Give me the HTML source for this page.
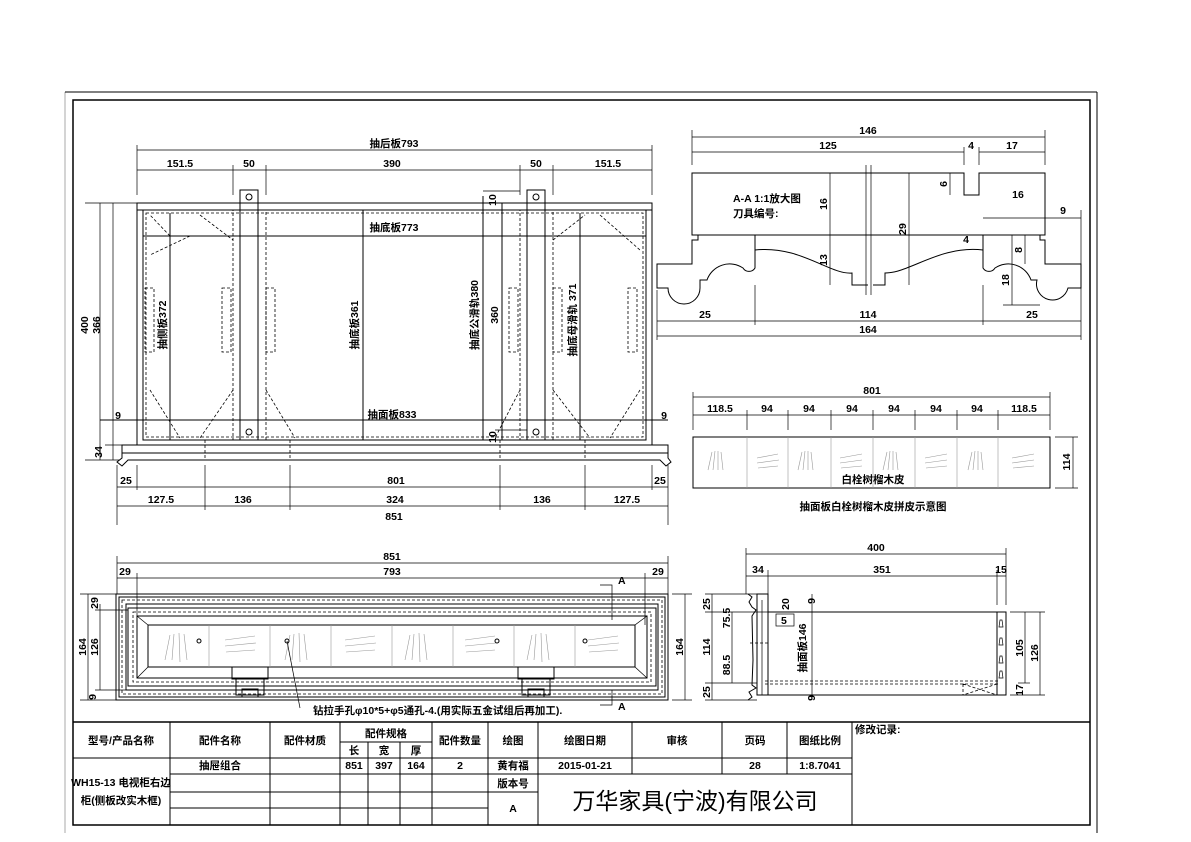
<!DOCTYPE html>
<html><head><meta charset="utf-8"><style>
html,body{margin:0;padding:0;background:#fff}
svg{display:block}
text{font-family:"Liberation Sans","Noto Sans CJK SC",sans-serif;font-size:10.5px;font-weight:bold;fill:#000}
.t{text-anchor:middle}
.s{stroke:#000;stroke-width:1;fill:none}
.d{stroke:#000;stroke-width:0.7;fill:none}
.g{stroke:#999;stroke-width:0.6;fill:none}
.da{stroke:#000;stroke-width:0.8;fill:none;stroke-dasharray:3 2}
.th{stroke:#000;stroke-width:1.5;fill:none}
</style></head><body>
<svg width="1191" height="842" viewBox="0 0 1191 842" xmlns="http://www.w3.org/2000/svg">
<!-- frames -->
<line x1="65" y1="92" x2="65" y2="833" stroke="#aaa" stroke-width="1"/>
<line x1="65" y1="92" x2="1097" y2="92" class="s"/>
<line x1="1097" y1="92" x2="1097" y2="833" class="s"/>
<rect x="73" y="100" width="1017" height="725" class="th"/>

<!-- ===== TOP LEFT VIEW ===== -->
<g>
<!-- dims top -->
<line x1="137" y1="150" x2="652" y2="150" class="d"/>
<text x="394" y="147" class="t">抽后板793</text>
<line x1="137" y1="170" x2="652" y2="170" class="d"/>
<text x="180" y="167" class="t">151.5</text><text x="249" y="167" class="t">50</text>
<text x="392" y="167" class="t">390</text><text x="536" y="167" class="t">50</text>
<text x="608" y="167" class="t">151.5</text>
<g class="d">
<line x1="137" y1="145" x2="137" y2="195"/><line x1="652" y1="145" x2="652" y2="195"/>
<line x1="233" y1="165" x2="233" y2="195"/><line x1="266" y1="165" x2="266" y2="195"/>
<line x1="520" y1="165" x2="520" y2="195"/><line x1="553" y1="165" x2="553" y2="195"/>
</g>
<!-- box -->
<rect x="137" y="203" width="515" height="242" class="s"/>
<line x1="137" y1="210" x2="652" y2="210" class="s"/>
<rect x="143" y="210" width="503" height="230" class="s"/>
<rect x="146" y="213" width="497" height="224" class="da"/>
<line x1="143" y1="236" x2="646" y2="236" class="s"/>
<text x="394" y="231" class="t">抽底板773</text>
<line x1="100" y1="420" x2="668" y2="420" class="s"/>
<text x="392" y="418" class="t">抽面板833</text>
<line x1="363" y1="210" x2="363" y2="440" class="s"/>
<line x1="170" y1="213" x2="170" y2="440" class="s"/>
<line x1="483" y1="196" x2="483" y2="440" class="s"/>
<line x1="502" y1="203" x2="502" y2="440" class="s"/>
<line x1="580" y1="213" x2="580" y2="440" class="s"/>
<!-- rails -->
<rect x="233" y="210" width="33" height="230" class="da"/>
<rect x="240" y="190" width="18" height="250" class="s"/>
<circle cx="249" cy="197" r="3" class="s"/><circle cx="249" cy="432" r="3" class="s"/>
<rect x="520" y="210" width="33" height="230" class="da"/>
<rect x="527" y="190" width="18" height="250" class="s"/>
<circle cx="536" cy="197" r="3" class="s"/><circle cx="536" cy="432" r="3" class="s"/>
<line x1="483" y1="191" x2="520" y2="191" class="d"/>
<line x1="495" y1="430" x2="527" y2="430" class="d"/>
<!-- diagonals -->
<g class="da" stroke-width="0.5">
<line x1="170" y1="236" x2="150" y2="215"/><line x1="190" y1="236" x2="150" y2="255"/>
<line x1="200" y1="215" x2="233" y2="240"/><line x1="233" y1="390" x2="200" y2="438"/>
<line x1="150" y1="390" x2="180" y2="438"/><line x1="266" y1="390" x2="295" y2="438"/>
<line x1="520" y1="390" x2="495" y2="438"/><line x1="553" y1="390" x2="590" y2="438"/>
<line x1="640" y1="390" x2="610" y2="438"/><line x1="600" y1="215" x2="640" y2="250"/>
<line x1="553" y1="240" x2="585" y2="215"/>
</g>
<!-- slots -->
<g class="da">
<rect x="145" y="288" width="9" height="64"/><rect x="222" y="288" width="9" height="64"/>
<rect x="266" y="288" width="9" height="64"/><rect x="509" y="288" width="9" height="64"/>
<rect x="553" y="288" width="9" height="64"/><rect x="628" y="288" width="9" height="64"/>
</g>
<text transform="translate(166,325) rotate(-90)" class="t">抽侧板372</text>
<text transform="translate(358,325) rotate(-90)" class="t">抽底板361</text>
<text transform="translate(478,315) rotate(-90)" class="t">抽底公滑轨380</text>
<text transform="translate(498,315) rotate(-90)" class="t">360</text>
<text transform="translate(576,320) rotate(-90)" class="t">抽底母滑轨 371</text>
<text transform="translate(496,200) rotate(-90)" class="t" font-size="9">10</text>
<text transform="translate(496,437) rotate(-90)" class="t" font-size="9">10</text>
<!-- front panel -->
<rect x="122" y="445" width="546" height="8" class="s"/>
<path d="M122 453 L122 458 L117 462 L122 466 L128 460 L660 460 L666 466 L671 462 L668 458 L668 453" class="s"/>
<g class="da"><line x1="205" y1="440" x2="205" y2="460"/><line x1="290" y1="440" x2="290" y2="460"/><line x1="500" y1="440" x2="500" y2="460"/><line x1="585" y1="440" x2="585" y2="460"/></g>
<!-- left dims -->
<line x1="100" y1="203" x2="100" y2="460" class="d"/>
<line x1="113" y1="203" x2="113" y2="445" class="d"/>
<line x1="113" y1="445" x2="113" y2="460" class="d"/>
<line x1="85" y1="203" x2="137" y2="203" class="d"/>
<line x1="105" y1="445" x2="122" y2="445" class="d"/>
<line x1="85" y1="460" x2="120" y2="460" class="d"/>
<text transform="translate(88,325) rotate(-90)" class="t">400</text>
<text transform="translate(100,325) rotate(-90)" class="t">366</text>
<text transform="translate(102,452) rotate(-90)" class="t">34</text>
<text x="118" y="419" class="t" font-size="9">9</text><text x="664" y="419" class="t" font-size="9">9</text>
<!-- bottom dims -->
<g class="d">
<line x1="117" y1="465" x2="117" y2="525"/><line x1="668" y1="465" x2="668" y2="525"/>
<line x1="137" y1="465" x2="137" y2="490"/><line x1="652" y1="465" x2="652" y2="490"/>
<line x1="205" y1="465" x2="205" y2="510"/><line x1="290" y1="465" x2="290" y2="510"/>
<line x1="500" y1="465" x2="500" y2="510"/><line x1="585" y1="465" x2="585" y2="510"/>
<line x1="117" y1="487" x2="668" y2="487"/><line x1="117" y1="506" x2="668" y2="506"/>
</g>
<text x="126" y="484" class="t">25</text><text x="660" y="484" class="t">25</text>
<text x="396" y="484" class="t">801</text>
<text x="161" y="503" class="t">127.5</text><text x="243" y="503" class="t">136</text>
<text x="395" y="503" class="t">324</text><text x="542" y="503" class="t">136</text>
<text x="627" y="503" class="t">127.5</text>
<text x="394" y="520" class="t">851</text>
</g>

<!-- ===== A-A SECTION ===== -->
<g>
<line x1="692" y1="137" x2="1045" y2="137" class="d"/>
<line x1="692" y1="152" x2="964" y2="152" class="d"/>
<line x1="979" y1="152" x2="1045" y2="152" class="d"/>
<g class="d"><line x1="692" y1="130" x2="692" y2="165"/><line x1="1045" y1="130" x2="1045" y2="165"/>
<line x1="964" y1="147" x2="964" y2="165"/><line x1="979" y1="147" x2="979" y2="165"/></g>
<text x="868" y="134" class="t">146</text><text x="828" y="149" class="t">125</text>
<text x="971" y="149" class="t">4</text><text x="1012" y="149" class="t">17</text>
<path d="M692 173 L964 173 L964 195 L979 195 L979 173 L1045 173 L1045 235 L692 235 Z" class="s"/>
<path d="M698 235 L698 240 L692 240 L692 264 L657 264 L657 288 L668 288 A16 16 0 0 0 700 288 L700 280 L707 280 A24 24 0 0 1 743 268 A7 7 0 0 0 755 268 L755 235" class="s"/>
<path d="M755 250 C800 245 830 275 852 273 L852 285 L868 285" class="s"/>
<path d="M873 285 L885 285 L885 273 C910 273 940 245 983 250" class="s"/>
<path d="M983 235 L983 268 A7 7 0 0 0 995 268 A24 24 0 0 1 1031 280 L1037 280 A16 16 0 0 0 1068 288 L1081 288 L1081 264 L1045 264 L1045 240 L1040 240 L1040 235" class="s"/>
<path d="M866 165 L866 295 M871 165 L871 295" class="d"/>
<text x="733" y="202" font-size="10">A-A 1:1放大图</text>
<text x="733" y="217" font-size="10">刀具编号:</text>
<g class="d">
<line x1="830" y1="173" x2="830" y2="285"/><line x1="909" y1="173" x2="909" y2="285"/>
<line x1="950" y1="195" x2="950" y2="173"/>
<line x1="983" y1="218" x2="1081" y2="218"/><line x1="1081" y1="210" x2="1081" y2="290"/>
<line x1="1012" y1="235" x2="1012" y2="305"/><line x1="1025" y1="235" x2="1025" y2="264"/>
<line x1="657" y1="290" x2="657" y2="340"/><line x1="755" y1="285" x2="755" y2="325"/>
<line x1="983" y1="285" x2="983" y2="325"/><line x1="1081" y1="290" x2="1081" y2="340"/>
<line x1="657" y1="321" x2="1081" y2="321"/><line x1="657" y1="336" x2="1081" y2="336"/>
<line x1="1003" y1="305" x2="1040" y2="305"/>
</g>
<text transform="translate(827,204) rotate(-90)" class="t">16</text>
<text transform="translate(827,260) rotate(-90)" class="t">13</text>
<text transform="translate(906,229) rotate(-90)" class="t">29</text>
<text transform="translate(947,184) rotate(-90)" class="t">6</text>
<text transform="translate(1022,250) rotate(-90)" class="t">8</text>
<text transform="translate(1009,280) rotate(-90)" class="t">18</text>
<text x="966" y="243" class="t">4</text>
<text x="1018" y="198" class="t">16</text><text x="1063" y="214" class="t">9</text>
<text x="705" y="318" class="t">25</text><text x="868" y="318" class="t">114</text>
<text x="1032" y="318" class="t">25</text><text x="868" y="333" class="t">164</text>
</g>

<!-- ===== VENEER DIAGRAM ===== -->
<g>
<line x1="693" y1="397" x2="1050" y2="397" class="d"/>
<line x1="693" y1="415" x2="1050" y2="415" class="d"/>
<text x="872" y="394" class="t">801</text>
<g class="d">
<line x1="693" y1="392" x2="693" y2="430"/><line x1="747" y1="410" x2="747" y2="430"/>
<line x1="788" y1="410" x2="788" y2="430"/><line x1="831" y1="410" x2="831" y2="430"/>
<line x1="873" y1="410" x2="873" y2="430"/><line x1="915" y1="410" x2="915" y2="430"/>
<line x1="957" y1="410" x2="957" y2="430"/><line x1="998" y1="410" x2="998" y2="430"/>
<line x1="1050" y1="392" x2="1050" y2="430"/>
</g>
<text x="720" y="412" class="t">118.5</text><text x="767" y="412" class="t">94</text>
<text x="809" y="412" class="t">94</text><text x="852" y="412" class="t">94</text>
<text x="894" y="412" class="t">94</text><text x="936" y="412" class="t">94</text>
<text x="977" y="412" class="t">94</text><text x="1024" y="412" class="t">118.5</text>
<rect x="693" y="437" width="357" height="51" class="s"/>
<g class="g">
<line x1="747" y1="437" x2="747" y2="488"/><line x1="788" y1="437" x2="788" y2="488"/>
<line x1="831" y1="437" x2="831" y2="488"/><line x1="873" y1="437" x2="873" y2="488"/>
<line x1="915" y1="437" x2="915" y2="488"/><line x1="957" y1="437" x2="957" y2="488"/>
<line x1="998" y1="437" x2="998" y2="488"/>
<path d="M708 470 L712 452 M713 470 L715 451 M718 470 L718 451 M723 470 L721 452"/>
<path d="M757 458 L778 454 M757 463 L779 460 M758 468 L778 466"/>
<path d="M798 470 L802 452 M803 470 L805 451 M808 470 L808 451 M813 470 L811 452"/>
<path d="M840 458 L862 454 M840 463 L862 460 M841 468 L862 466"/>
<path d="M883 470 L887 452 M888 470 L890 451 M893 470 L893 451 M898 470 L896 452"/>
<path d="M925 458 L947 454 M925 463 L947 460 M926 468 L947 466"/>
<path d="M968 470 L972 452 M973 470 L975 451 M978 470 L978 451 M983 470 L981 452"/>
<path d="M1012 458 L1034 454 M1012 463 L1034 460 M1013 468 L1034 466"/>
</g>
<text x="873" y="483" class="t">白栓树榴木皮</text>
<line x1="1073" y1="437" x2="1073" y2="488" class="d"/>
<line x1="1055" y1="437" x2="1078" y2="437" class="d"/><line x1="1055" y1="488" x2="1078" y2="488" class="d"/>
<text transform="translate(1070,462) rotate(-90)" class="t">114</text>
<text x="873" y="510" class="t">抽面板白栓树榴木皮拼皮示意图</text>
</g>

<!-- ===== BOTTOM LEFT VIEW ===== -->
<g>
<line x1="117" y1="563" x2="668" y2="563" class="d"/>
<line x1="117" y1="578" x2="668" y2="578" class="d"/>
<g class="d"><line x1="117" y1="556" x2="117" y2="594"/><line x1="668" y1="556" x2="668" y2="594"/>
<line x1="137" y1="573" x2="137" y2="625"/><line x1="645" y1="573" x2="645" y2="625"/></g>
<text x="392" y="560" class="t">851</text><text x="392" y="575" class="t">793</text>
<text x="125" y="575" class="t">29</text><text x="658" y="575" class="t">29</text>
<rect x="116" y="594" width="552" height="106" class="s"/>
<rect x="119" y="597" width="546" height="100" class="s"/>
<rect x="122" y="600" width="540" height="94" class="da"/>
<rect x="126" y="604" width="532" height="86" class="s"/>
<rect x="128" y="608" width="528" height="78" class="s"/>
<rect x="133" y="612" width="518" height="70" class="da"/>
<rect x="137" y="616" width="510" height="62" class="s"/>
<rect x="148" y="625" width="487" height="42" class="s"/>
<g class="d"><line x1="137" y1="616" x2="148" y2="625"/><line x1="647" y1="616" x2="635" y2="625"/>
<line x1="137" y1="678" x2="148" y2="667"/><line x1="647" y1="678" x2="635" y2="667"/></g>
<g class="g">
<line x1="209" y1="625" x2="209" y2="667"/><line x1="270" y1="625" x2="270" y2="667"/>
<line x1="331" y1="625" x2="331" y2="667"/><line x1="392" y1="625" x2="392" y2="667"/>
<line x1="453" y1="625" x2="453" y2="667"/><line x1="514" y1="625" x2="514" y2="667"/>
<line x1="575" y1="625" x2="575" y2="667"/>
<path d="M165 660 L170 635 M172 660 L174 634 M180 662 L179 633 M187 660 L184 634"/>
<path d="M225 640 L255 636 M225 646 L256 643 M226 652 L255 650"/>
<path d="M285 660 L290 635 M292 660 L294 634 M300 662 L299 633 M307 660 L304 634"/>
<path d="M345 640 L375 636 M345 646 L376 643 M346 652 L375 650"/>
<path d="M405 660 L410 635 M412 660 L414 634 M420 662 L419 633 M427 660 L424 634"/>
<path d="M465 640 L495 636 M465 646 L496 643 M466 652 L495 650"/>
<path d="M527 660 L532 635 M534 660 L536 634 M542 662 L541 633 M549 660 L546 634"/>
<path d="M588 640 L618 636 M588 646 L619 643 M589 652 L618 650"/>
</g>
<circle cx="199" cy="641" r="2" class="s"/><circle cx="287" cy="641" r="2" class="s"/>
<circle cx="497" cy="641" r="2" class="s"/><circle cx="585" cy="641" r="2" class="s"/>
<!-- hardware -->
<g class="s" stroke-width="0.8">
<rect x="232" y="667" width="36" height="12"/><rect x="236" y="679" width="28" height="16"/>
<rect x="242" y="689" width="16" height="8"/>
<rect x="518" y="667" width="36" height="12"/><rect x="522" y="679" width="28" height="16"/>
<rect x="528" y="689" width="16" height="8"/>
</g>
<line x1="287" y1="641" x2="300" y2="708" class="d"/>
<text x="313" y="714" font-size="10">钻拉手孔φ10*5+φ5通孔-4.(用实际五金试组后再加工).</text>
<path d="M600 585 L612 585 L612 620 M600 705 L612 705 L612 690" class="d"/>
<text x="618" y="584" font-size="8">A</text><text x="618" y="710" font-size="8">A</text>
<!-- left dims -->
<g class="d"><line x1="88" y1="594" x2="88" y2="700"/><line x1="100" y1="604" x2="100" y2="690"/>
<line x1="80" y1="594" x2="116" y2="594"/><line x1="80" y1="700" x2="116" y2="700"/>
<line x1="95" y1="610" x2="128" y2="610"/><line x1="95" y1="690" x2="128" y2="690"/>
<line x1="685" y1="594" x2="685" y2="700"/><line x1="672" y1="594" x2="692" y2="594"/><line x1="672" y1="700" x2="692" y2="700"/></g>
<text transform="translate(86,647) rotate(-90)" class="t">164</text>
<text transform="translate(98,647) rotate(-90)" class="t">126</text>
<text transform="translate(98,603) rotate(-90)" class="t">29</text>
<text transform="translate(96,697) rotate(-90)" class="t">9</text>
<text transform="translate(683,647) rotate(-90)" class="t">164</text>
</g>

<!-- ===== BOTTOM RIGHT VIEW ===== -->
<g>
<line x1="746" y1="554" x2="1006" y2="554" class="d"/>
<line x1="746" y1="576" x2="1006" y2="576" class="d"/>
<g class="d"><line x1="746" y1="548" x2="746" y2="594"/><line x1="1006" y1="548" x2="1006" y2="605"/>
<line x1="768" y1="570" x2="768" y2="594"/><line x1="997" y1="570" x2="997" y2="605"/></g>
<text x="876" y="551" class="t">400</text><text x="758" y="573" class="t">34</text>
<text x="882" y="573" class="t">351</text><text x="1001" y="573" class="t">15</text>
<path d="M748 594 L752 597 L749 602 L752 607 L756 610 L752 616 L753 660 L752 685 L756 688 L749 692 L752 697 L748 700" class="s"/>
<rect x="757" y="594" width="11" height="101" class="s"/>
<line x1="762" y1="600" x2="762" y2="695" class="d"/>
<rect x="768" y="612" width="238" height="83" class="s"/>
<line x1="997" y1="612" x2="997" y2="695" class="s"/>
<line x1="765" y1="681" x2="1000" y2="681" class="da"/>
<line x1="765" y1="684" x2="1000" y2="684" class="da"/>
<line x1="750" y1="643" x2="768" y2="643" class="da"/>
<path d="M963 684 L963 695 M963 684 L997 695 M997 684 L963 695" class="da" stroke-width="0.5"/>
<g class="d"><path d="M999 627 L1003 627 L1002 620 L1000 620 Z"/><path d="M999 645 L1003 645 L1002 638 L1000 638 Z"/>
<path d="M999 663 L1003 663 L1002 656 L1000 656 Z"/><path d="M999 678 L1003 678 L1002 671 L1000 671 Z"/></g>
<rect x="776" y="614" width="18" height="12" class="d"/>
<text x="781" y="624" font-size="9">5</text>
<text transform="translate(789,604) rotate(-90)" class="t" font-size="9">20</text>
<text transform="translate(806,648) rotate(-90)" class="t">抽面板146</text>
<line x1="812" y1="594" x2="812" y2="700" class="d"/>
<text transform="translate(815,601) rotate(-90)" class="t" font-size="9">9</text>
<text transform="translate(815,698) rotate(-90)" class="t" font-size="9">9</text>
<g class="d">
<line x1="712" y1="594" x2="712" y2="700"/><line x1="732" y1="612" x2="732" y2="683"/>
<line x1="705" y1="594" x2="757" y2="594"/><line x1="705" y1="612" x2="768" y2="612"/>
<line x1="705" y1="683" x2="757" y2="683"/><line x1="705" y1="700" x2="757" y2="700"/>
<line x1="1025" y1="612" x2="1025" y2="683"/><line x1="1040" y1="612" x2="1040" y2="695"/>
<line x1="1010" y1="612" x2="1045" y2="612"/><line x1="1010" y1="695" x2="1045" y2="695"/>
<line x1="1018" y1="683" x2="1030" y2="683"/>
</g>
<text transform="translate(710,604) rotate(-90)" class="t">25</text>
<text transform="translate(710,647) rotate(-90)" class="t">114</text>
<text transform="translate(710,692) rotate(-90)" class="t">25</text>
<text transform="translate(730,618) rotate(-90)" class="t">75.5</text>
<text transform="translate(730,665) rotate(-90)" class="t">88.5</text>
<text transform="translate(1023,648) rotate(-90)" class="t">105</text>
<text transform="translate(1038,653) rotate(-90)" class="t">126</text>
<text transform="translate(1023,690) rotate(-90)" class="t" font-size="9">17</text>
</g>

<!-- ===== TITLE BLOCK ===== -->
<g>
<line x1="73" y1="722" x2="1090" y2="722" class="th"/>
<g class="s">
<line x1="73" y1="758" x2="852" y2="758"/>
<line x1="340" y1="742" x2="432" y2="742"/>
<line x1="170" y1="774" x2="852" y2="774"/>
<line x1="170" y1="792" x2="538" y2="792"/>
<line x1="170" y1="808" x2="488" y2="808"/>
<line x1="170" y1="722" x2="170" y2="825"/><line x1="270" y1="722" x2="270" y2="825"/>
<line x1="340" y1="722" x2="340" y2="825"/><line x1="368" y1="742" x2="368" y2="825"/>
<line x1="400" y1="742" x2="400" y2="825"/><line x1="432" y1="722" x2="432" y2="825"/>
<line x1="488" y1="722" x2="488" y2="825"/><line x1="538" y1="722" x2="538" y2="825"/>
<line x1="632" y1="722" x2="632" y2="774"/><line x1="722" y1="722" x2="722" y2="774"/>
<line x1="787" y1="722" x2="787" y2="774"/><line x1="852" y1="722" x2="852" y2="825"/>
</g>
<text x="121" y="744" class="t">型号/产品名称</text>
<text x="220" y="744" class="t">配件名称</text>
<text x="305" y="744" class="t">配件材质</text>
<text x="386" y="737" class="t">配件规格</text>
<text x="354" y="754" class="t">长</text><text x="384" y="754" class="t">宽</text><text x="416" y="754" class="t">厚</text>
<text x="460" y="744" class="t">配件数量</text>
<text x="513" y="744" class="t">绘图</text>
<text x="585" y="744" class="t">绘图日期</text>
<text x="677" y="744" class="t">审核</text>
<text x="755" y="744" class="t">页码</text>
<text x="820" y="744" class="t">图纸比例</text>
<text x="855" y="733">修改记录:</text>
<text x="220" y="769" class="t">抽屉组合</text>
<text x="354" y="769" class="t">851</text><text x="384" y="769" class="t">397</text><text x="416" y="769" class="t">164</text>
<text x="460" y="769" class="t">2</text><text x="513" y="769" class="t">黄有福</text>
<text x="585" y="769" class="t">2015-01-21</text>
<text x="755" y="769" class="t">28</text><text x="820" y="769" class="t">1:8.7041</text>
<text x="121" y="786" class="t">WH15-13 电视柜右边</text>
<text x="121" y="804" class="t">柜(侧板改实木框)</text>
<text x="513" y="787" class="t">版本号</text>
<text x="513" y="812" class="t">A</text>
<text x="695" y="809" class="t" style="font-size:23px;font-weight:normal">万华家具(宁波)有限公司</text>
</g>
</svg>
</body></html>
